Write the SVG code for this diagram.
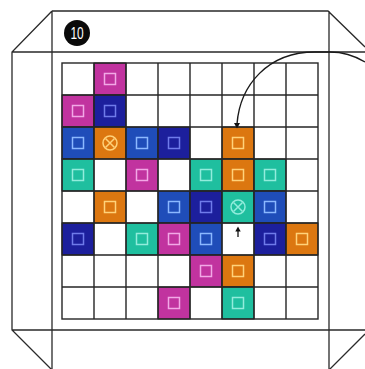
<svg xmlns="http://www.w3.org/2000/svg" width="365" height="369" viewBox="0 0 365 369">
<style>
.fr{fill:none;stroke:#2a2a2a;stroke-width:1.3}
.gl{fill:none;stroke:#262626;stroke-width:1.4}
.M{fill:#c1339f}.N{fill:#1c1f9c}.B{fill:#1f4db9}.T{fill:#1fbf9f}.O{fill:#dc7710}
.cell{stroke:#1a1a1a;stroke-width:1}
.mk{fill:none;stroke-width:1.5}
.mM{stroke:#f2a8e6}.mN{stroke:#6f7bea}.mB{stroke:#8bb8ff}.mT{stroke:#92ecdc}.mO{stroke:#ffd27a}
</style>
<defs>
<g id="sq"><rect x="-5.5" y="-5.5" width="11" height="11"/></g>
<g id="ot"><circle r="7"/><path d="M-4.5,-4.5L4.5,4.5M4.5,-4.5L-4.5,4.5"/></g>
</defs>
<rect width="365" height="369" fill="#fff"/>
<g id="frame">
<path class="fr" d="M52,11H328L365,47M52,11L12,52V330L51,369M52,11V369M12,52H365M329,11V369M12,330H365M330,369L365,334"/>
</g>
<g id="badge">
<circle cx="77" cy="33" r="13" fill="#0a0a0a"/>
<text x="77" y="39" text-anchor="middle" font-family="'Liberation Sans',Arial,sans-serif" font-size="17" fill="#fff" transform="translate(77,0) scale(0.7,1) translate(-77,0)">10</text>
</g>
<g id="cells">
<g id="r0c1"><rect class="cell M" x="94" y="63" width="32" height="32"/><use href="#sq" class="mk mM" x="110" y="79"/></g>
<g id="r1c0"><rect class="cell M" x="62" y="95" width="32" height="32"/><use href="#sq" class="mk mM" x="78" y="111"/></g>
<g id="r1c1"><rect class="cell N" x="94" y="95" width="32" height="32"/><use href="#sq" class="mk mN" x="110" y="111"/></g>
<g id="r2c0"><rect class="cell B" x="62" y="127" width="32" height="32"/><use href="#sq" class="mk mB" x="78" y="143"/></g>
<g id="r2c1"><rect class="cell O" x="94" y="127" width="32" height="32"/><use href="#ot" class="mk mO" x="110" y="143"/></g>
<g id="r2c2"><rect class="cell B" x="126" y="127" width="32" height="32"/><use href="#sq" class="mk mB" x="142" y="143"/></g>
<g id="r2c3"><rect class="cell N" x="158" y="127" width="32" height="32"/><use href="#sq" class="mk mN" x="174" y="143"/></g>
<g id="r2c5"><rect class="cell O" x="222" y="127" width="32" height="32"/><use href="#sq" class="mk mO" x="238" y="143"/></g>
<g id="r3c0"><rect class="cell T" x="62" y="159" width="32" height="32"/><use href="#sq" class="mk mT" x="78" y="175"/></g>
<g id="r3c2"><rect class="cell M" x="126" y="159" width="32" height="32"/><use href="#sq" class="mk mM" x="142" y="175"/></g>
<g id="r3c4"><rect class="cell T" x="190" y="159" width="32" height="32"/><use href="#sq" class="mk mT" x="206" y="175"/></g>
<g id="r3c5"><rect class="cell O" x="222" y="159" width="32" height="32"/><use href="#sq" class="mk mO" x="238" y="175"/></g>
<g id="r3c6"><rect class="cell T" x="254" y="159" width="32" height="32"/><use href="#sq" class="mk mT" x="270" y="175"/></g>
<g id="r4c1"><rect class="cell O" x="94" y="191" width="32" height="32"/><use href="#sq" class="mk mO" x="110" y="207"/></g>
<g id="r4c3"><rect class="cell B" x="158" y="191" width="32" height="32"/><use href="#sq" class="mk mB" x="174" y="207"/></g>
<g id="r4c4"><rect class="cell N" x="190" y="191" width="32" height="32"/><use href="#sq" class="mk mN" x="206" y="207"/></g>
<g id="r4c5"><rect class="cell T" x="222" y="191" width="32" height="32"/><use href="#ot" class="mk mT" x="238" y="207"/></g>
<g id="r4c6"><rect class="cell B" x="254" y="191" width="32" height="32"/><use href="#sq" class="mk mB" x="270" y="207"/></g>
<g id="r5c0"><rect class="cell N" x="62" y="223" width="32" height="32"/><use href="#sq" class="mk mN" x="78" y="239"/></g>
<g id="r5c2"><rect class="cell T" x="126" y="223" width="32" height="32"/><use href="#sq" class="mk mT" x="142" y="239"/></g>
<g id="r5c3"><rect class="cell M" x="158" y="223" width="32" height="32"/><use href="#sq" class="mk mM" x="174" y="239"/></g>
<g id="r5c4"><rect class="cell B" x="190" y="223" width="32" height="32"/><use href="#sq" class="mk mB" x="206" y="239"/></g>
<g id="r5c6"><rect class="cell N" x="254" y="223" width="32" height="32"/><use href="#sq" class="mk mN" x="270" y="239"/></g>
<g id="r5c7"><rect class="cell O" x="286" y="223" width="32" height="32"/><use href="#sq" class="mk mO" x="302" y="239"/></g>
<g id="r6c4"><rect class="cell M" x="190" y="255" width="32" height="32"/><use href="#sq" class="mk mM" x="206" y="271"/></g>
<g id="r6c5"><rect class="cell O" x="222" y="255" width="32" height="32"/><use href="#sq" class="mk mO" x="238" y="271"/></g>
<g id="r7c3"><rect class="cell M" x="158" y="287" width="32" height="32"/><use href="#sq" class="mk mM" x="174" y="303"/></g>
<g id="r7c5"><rect class="cell T" x="222" y="287" width="32" height="32"/><use href="#sq" class="mk mT" x="238" y="303"/></g>
</g>
<g id="grid">
<rect class="gl" x="62" y="63" width="256" height="256"/>
<path class="gl" d="M94,63V319M126,63V319M158,63V319M190,63V319M222,63V319M254,63V319M286,63V319M62,95H318M62,127H318M62,159H318M62,191H318M62,223H318M62,255H318M62,287H318"/>
</g>
<g id="connectors">
<path d="M237,124 C240,85 268,52 315,52 L330,52 C345,52 355,56 365,62" fill="none" stroke="#1a1a1a" stroke-width="1.4"/>
<path d="M234,123 L240,123 L237,128.5 Z" fill="#111"/>
<path d="M238,237V230" stroke="#111" stroke-width="1.3"/>
<path d="M235.3,231.5 L238,226.5 L240.7,231.5 Z" fill="#111"/>
</g>
</svg>
